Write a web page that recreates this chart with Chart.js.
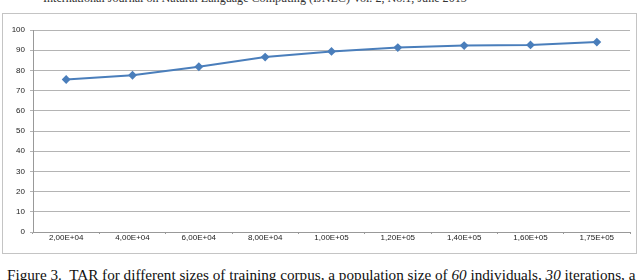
<!DOCTYPE html>
<html>
<head>
<meta charset="utf-8">
<script src="https://cdn.jsdelivr.net/npm/chart.js@4.4.1/dist/chart.umd.min.js"></script>
<style>
  html, body { margin: 0; padding: 0; background: #fff; overflow: hidden; }
  body { width: 640px; height: 280px; position: relative; }
  #header {
    position: absolute; left: 43px; top: -9px; white-space: nowrap;
    font-family: "Liberation Serif", serif; font-size: 12.1px; color: #333;
  }
  #box {
    position: absolute; left: 2px; top: 13px; width: 633px; height: 239px;
    border: 1px solid #c4c4c4;
  }
  #box canvas { position: absolute; left: 0; top: 0; }
  #caption {
    position: absolute; left: 7px; top: 266px; white-space: nowrap;
    font-family: "Liberation Serif", serif; font-size: 15.2px; color: #111;
  }
</style>
</head>
<body>
<div id="header">International Journal on Natural Language Computing (IJNLC) Vol. 2, No.1, June 2013</div>
<div id="box"><canvas id="chart" width="633" height="239"></canvas></div>
<div id="caption">Figure 3.&nbsp; TAR for different sizes of training corpus, a population size of <i>60</i> individuals, <i>30</i> iterations, a</div>
<script>
const categories = ['2,00E+04', '4,00E+04', '6,00E+04', '8,00E+04', '1,00E+05', '1,20E+05', '1,40E+05', '1,60E+05', '1,75E+05'];
const tarValues = [75.5, 77.6, 81.8, 86.6, 89.4, 91.3, 92.3, 92.6, 94.0];
const yMin = 0;
const yMax = 100;
const yStep = 10;

(() => {
    const tickFont = { family: 'Liberation Sans', size: 8 };

    const config = {
        type: 'line',
        data: {
            labels: categories,
            datasets: [{
                data: tarValues,
                borderColor: '#4a7ebb',
                backgroundColor: '#4a7ebb',
                borderWidth: 2,
                pointStyle: 'rectRot',
                pointRadius: 3,
                pointHoverRadius: 3,
                tension: 0
            }]
        },
        options: {
            responsive: false,
            animation: false,
            layout: { padding: { left: 0, right: 6, top: 16, bottom: 0 } },
            scales: {
                x: {
                    offset: true,
                    afterFit: (scale) => { scale.height = 21; },
                    grid: {
                        offset: true,
                        drawOnChartArea: false,
                        drawTicks: true,
                        tickLength: 2,
                        color: '#999'
                    },
                    border: { color: '#999' },
                    ticks: { font: tickFont, color: '#222', padding: -1, maxRotation: 0, autoSkip: false }
                },
                y: {
                    min: yMin,
                    max: yMax,
                    afterFit: (scale) => { scale.width = 30; },
                    grid: { color: '#b4b4b4', tickLength: 3 },
                    border: { color: '#999' },
                    ticks: { stepSize: yStep, font: tickFont, color: '#222', padding: 5 }
                }
            },
            plugins: {
                legend: { display: false },
                tooltip: { enabled: false }
            }
        }
    };
    new Chart(document.getElementById('chart'), config);
})();
</script>
</body>
</html>
